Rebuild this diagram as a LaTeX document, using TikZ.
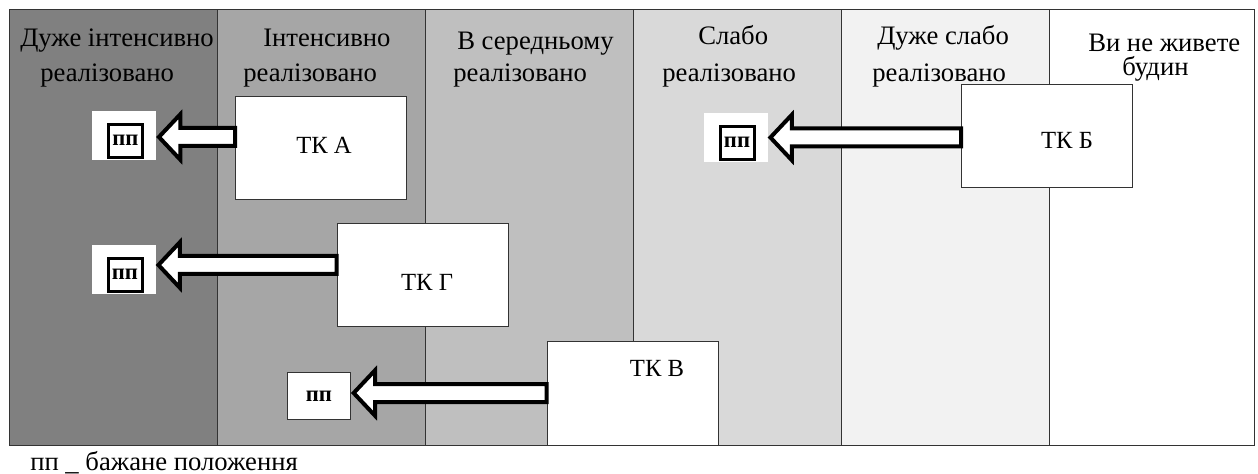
\documentclass[tikz,border=0pt]{standalone}
\usepackage{fontspec}
\setmainfont{Liberation Serif}
\usetikzlibrary{calc}

\definecolor{colA}{gray}{0.50}
\definecolor{colB}{gray}{0.65}
\definecolor{colC}{gray}{0.75}
\definecolor{colD}{gray}{0.85}
\definecolor{colE}{gray}{0.95}
\definecolor{rulegray}{gray}{0.2}

% hollow block arrow from the left side of #1 to the right side of #2,
% #3 moves the arrow up (negative) or down (positive)
\newcommand\blockarr[3]{%
  \draw[barrow] let \p1=($(#2.east)+(0,#3)$), \p2=(#1.west) in
    (\x1+2pt,\y1) -- (\x1+18pt,\y1+17pt) -- (\x1+18pt,\y1+6.75pt)
    -- (\x2,\y1+6.75pt) -- (\x2,\y1-6.75pt) -- (\x1+18pt,\y1-6.75pt)
    -- (\x1+18pt,\y1-17pt) -- cycle;}

\tikzset{
  colrule/.style={draw=rulegray, line width=0.75pt},
  hdr/.style={anchor=base west, inner sep=0pt,
    font=\fontsize{20}{24}\selectfont},
  tk/.style={draw=rulegray, fill=white, line width=0.75pt, inner sep=0pt,
    minimum width=128.25pt, minimum height=77.25pt},
  tklabel/.style={font=\fontsize{18.5}{22}\selectfont, inner sep=0pt},
  ppbg/.style={fill=white, inner sep=0pt, minimum width=48pt, minimum height=36.75pt},
  ppin/.style={draw=black, line width=2.25pt, inner sep=0pt, anchor=south,
    minimum width=25.5pt, minimum height=24.75pt,
    font=\fontsize{17}{17}\selectfont\bfseries},
  ppbox/.style={draw=rulegray, fill=white, line width=0.75pt, inner sep=0pt,
    minimum width=47.25pt, minimum height=35.25pt,
    font=\fontsize{17}{17}\selectfont\bfseries},
  barrow/.style={draw=black, fill=white, line width=3pt, line join=miter},
  foot/.style={anchor=base west, inner sep=0pt, font=\fontsize{20}{24}\selectfont}
}

\begin{document}
\begin{tikzpicture}[x=0.75pt, y=-0.75pt]
\useasboundingbox (0,0) rectangle (1258,474);

% rating columns
\draw[colrule, fill=colA]  (9,10)    rectangle (217,445);
\draw[colrule, fill=colB]  (217,10)  rectangle (425,445);
\draw[colrule, fill=colC]  (425,10)  rectangle (633,445);
\draw[colrule, fill=colD]  (633,10)  rectangle (841,445);
\draw[colrule, fill=colE]  (841,10)  rectangle (1049,445);
\draw[colrule, fill=white] (1049,10) rectangle (1254,445);

% column headings, one node per line
\node[hdr] (h1a) at (20,47)   {Дуже інтенсивно};
\node[hdr] (h1b) at (40,82)   {реалізовано};
\node[hdr] (h2a) at (263,47)  {Інтенсивно};
\node[hdr] (h2b) at (243,82)  {реалізовано};
\node[hdr] (h3a) at (457,50)  {В середньому};
\node[hdr] (h3b) at (453,82)  {реалізовано};
\node[hdr] (h4a) at (698,45)  {Слабо};
\node[hdr] (h4b) at (662,82)  {реалізовано};
\node[hdr] (h5a) at (877,45)  {Дуже слабо};
\node[hdr] (h5b) at (872,82)  {реалізовано};
\node[hdr] (h6a) at (1088,52) {Ви не живете};
\node[hdr] (h6b) at (1122,76) {будин};

% current positions
\node[tk, label={[tklabel, xshift=2.25pt, yshift=2.25pt]center:ТК А}]  (tkA) at (321,148)    {};
\node[tk, label={[tklabel, xshift=3.4pt, yshift=-5.25pt]center:ТК Г}]  (tkG) at (422.5,275)  {};
\node[tk, label={[tklabel, xshift=18.4pt, yshift=19.1pt]center:ТК В}]  (tkV) at (632.5,393.5) {};
\node[tk, label={[tklabel, xshift=15pt, yshift=-3pt]center:ТК Б}]      (tkB) at (1047,136)   {};

% desired positions
\node[ppbg] (ppA) at (124,135.5) {};
\node[ppin] (ppAin) at ($(ppA.south)+(1.5,-1.5)$) {пп};
\node[ppbg] (ppG) at (123.5,269.5) {};
\node[ppin] (ppGin) at ($(ppG.south)+(1.5,-1.5)$) {пп};
\node[ppbg] (ppB) at (735.5,137.5) {};
\node[ppin] (ppBin) at ($(ppB.south)+(1.5,-1.5)$) {пп};
\node[ppbox] (ppV) at (319,396) {\raisebox{-6pt}{пп}};

% moves towards the desired positions
\blockarr{tkA}{ppA}{1.5}
\blockarr{tkG}{ppG}{-4.5}
\blockarr{tkV}{ppV}{-3}
\blockarr{tkB}{ppB}{0}

% legend
\node[foot] (legend) at (30,470) {пп \_ бажане положення};
\end{tikzpicture}
\end{document}
